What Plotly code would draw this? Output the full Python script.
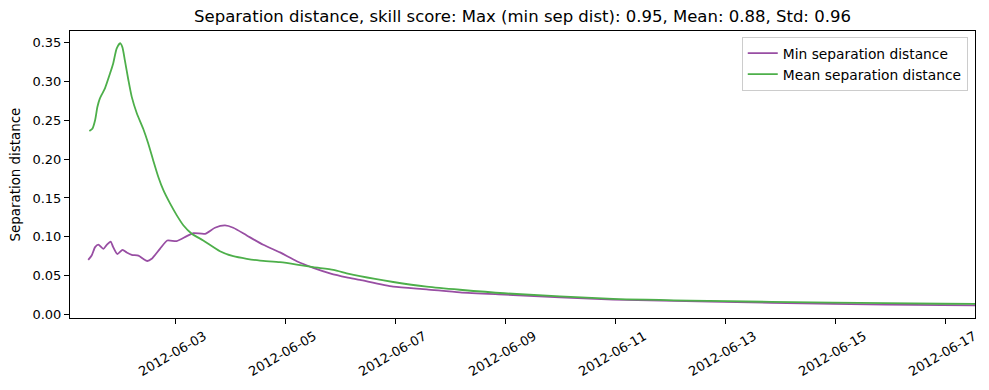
import pandas as pd
import plotly.graph_objects as go

start = pd.Timestamp("2012-06-01 00:00")

# hours after 2012-06-01 00:00
min_hours = [10.0, 11.5, 13.0, 14.4, 16.6, 18.1, 19.8, 20.9, 22.7, 25.0, 26.8, 29.0, 31.9,
             34.0, 35.8, 37.7, 41.3, 44.5, 48.6, 53.0, 55.9, 61.0, 65.3, 69.7, 73.3, 79.2,
             86.4, 93.7, 101.0, 108.2, 115.5, 122.8, 128.6, 143.1, 157.7, 172.2, 191.6,
             239.1, 281.3, 334.9, 382.7, 400.0]
min_sep = [0.0705, 0.076, 0.0868, 0.090, 0.0846, 0.0898, 0.094, 0.0868, 0.078, 0.0834,
           0.080, 0.077, 0.076, 0.0718, 0.069, 0.0718, 0.0846, 0.0954, 0.0945, 0.1009,
           0.1048, 0.104, 0.1117, 0.1147, 0.1117, 0.1018, 0.0898, 0.080, 0.0687, 0.0602,
           0.0532, 0.048, 0.0447, 0.036, 0.0326, 0.0287, 0.0258, 0.0193, 0.0168, 0.0138,
           0.0122, 0.0119]

mean_hours = [10.5, 11.8, 13.0, 14.0, 15.1, 17.3, 19.5, 20.9, 22.4, 23.9, 24.9, 26.0, 27.5,
              29.0, 31.2, 34.0, 36.2, 38.4, 40.6, 42.8, 45.7, 48.6, 51.5, 55.2, 60.2, 67.5,
              73.3, 79.2, 85.0, 93.7, 101.0, 108.2, 117.0, 122.8, 128.6, 143.1, 157.7, 172.2,
              191.6, 239.1, 281.3, 334.9, 382.7, 400.0]
mean_sep = [0.236, 0.239, 0.250, 0.267, 0.278, 0.291, 0.310, 0.323, 0.342, 0.349, 0.344,
            0.327, 0.302, 0.280, 0.259, 0.239, 0.220, 0.198, 0.177, 0.160, 0.143, 0.128,
            0.115, 0.104, 0.0954, 0.0816, 0.0751, 0.0718, 0.0696, 0.0674, 0.0644, 0.061,
            0.0576, 0.0532, 0.0494, 0.042, 0.036, 0.032, 0.0275, 0.0202, 0.0176, 0.0155,
            0.0140, 0.0137]

tick_dates = ["2012-06-03", "2012-06-05", "2012-06-07", "2012-06-09",
              "2012-06-11", "2012-06-13", "2012-06-15", "2012-06-17"]
y_ticks = [0.00, 0.05, 0.10, 0.15, 0.20, 0.25, 0.30, 0.35]

min_t = [start + pd.Timedelta(hours=h) for h in min_hours]
mean_t = [start + pd.Timedelta(hours=h) for h in mean_hours]

font = "DejaVu Sans"
fig = go.Figure()
fig.add_trace(go.Scatter(x=min_t, y=min_sep, mode="lines", name="Min separation distance",
                         line=dict(color="#984ea3", width=1.8, shape="spline", smoothing=0.6)))
fig.add_trace(go.Scatter(x=mean_t, y=mean_sep, mode="lines", name="Mean separation distance",
                         line=dict(color="#4daf4a", width=1.8, shape="spline", smoothing=0.6)))

fig.update_layout(
    width=989, height=390,
    margin=dict(l=70, r=14, t=31, b=72, autoexpand=False),
    plot_bgcolor="white", paper_bgcolor="white",
    font=dict(family=font, size=13, color="black"),
    title=dict(text="Separation distance, skill score: Max (min sep dist): 0.95, Mean: 0.88, Std: 0.96",
               x=0.5, xref="paper", xanchor="center", y=1 - 16 / 390, yref="container",
               yanchor="middle", font=dict(family=font, size=16.5, color="black")),
    legend=dict(x=0.992, y=0.98, xanchor="right", yanchor="top", bgcolor="white",
                bordercolor="#cccccc", borderwidth=1, font=dict(size=13.8),
                tracegroupgap=0),
    showlegend=True,
    annotations=[dict(text="Separation distance", xref="paper", yref="paper",
                      x=-(70 - 15) / 905, y=0.5, xanchor="center", yanchor="middle",
                      textangle=-90, showarrow=False, font=dict(size=13.4))],
)
fig.update_xaxes(
    range=[start + pd.Timedelta(hours=2.05), start + pd.Timedelta(hours=397.0)],
    tickvals=[pd.Timestamp(d) for d in tick_dates], ticktext=tick_dates,
    tickangle=-30, ticklabelshift=29, ticklabelstandoff=0, automargin=False,
    showline=True, linecolor="black", linewidth=1, mirror=True,
    ticks="outside", ticklen=5, tickcolor="black", showgrid=False, zeroline=False,
)
fig.update_yaxes(
    range=[-0.0043, 0.3647], tickvals=y_ticks, tickformat=".2f", automargin=False,
    showline=True, linecolor="black", linewidth=1, mirror=True,
    ticks="outside", ticklen=5, tickcolor="black", showgrid=False, zeroline=False,
)
fig.write_html("out.html", config={"displayModeBar": False},
               post_script="document.body.style.margin='0';document.body.style.padding='0';")
